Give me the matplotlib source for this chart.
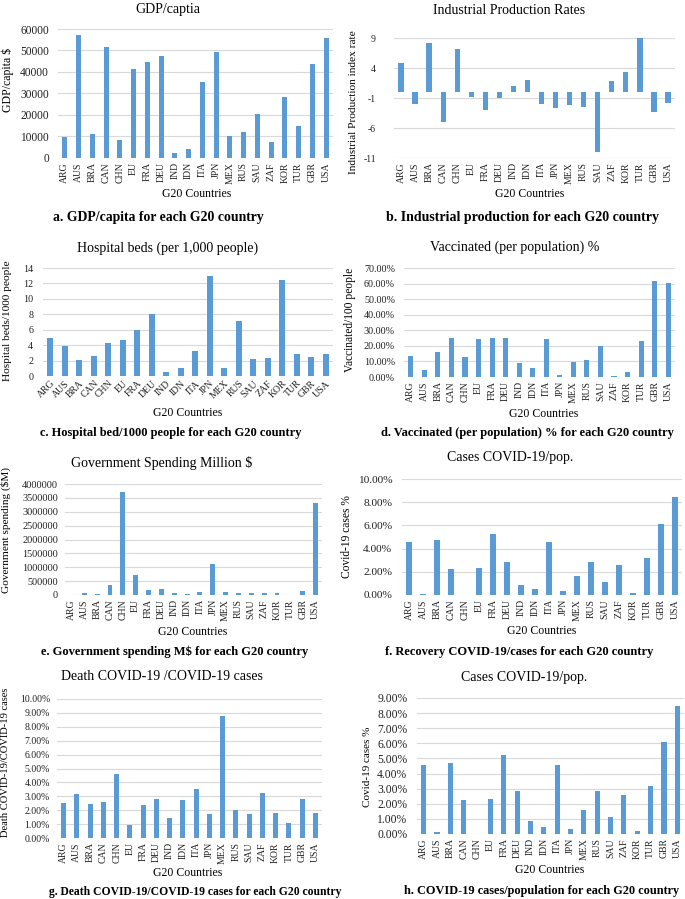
import numpy as np
import matplotlib
matplotlib.use('Agg')
import matplotlib.pyplot as plt
from matplotlib.ticker import FuncFormatter

plt.rcParams['font.family'] = ['Liberation Serif', 'DejaVu Serif']

countries = ['ARG', 'AUS', 'BRA', 'CAN', 'CHN', 'EU', 'FRA', 'DEU', 'IND', 'IDN',
             'ITA', 'JPN', 'MEX', 'RUS', 'SAU', 'ZAF', 'KOR', 'TUR', 'GBR', 'USA']

gdp_capita = [9800, 57000, 11100, 51400, 8300, 41300, 44500, 47500, 2200, 4400,
              35500, 49100, 10200, 12000, 20400, 7300, 28500, 15000, 43600, 55700]

industrial_rate = [4.9, -2.05, 8.2, -5.0, 7.2, -0.85, -2.95, -1.0, 0.95, 1.95,
                   -2.05, -2.6, -2.15, -2.5, -10.0, 1.8, 3.3, 9.0, -3.3, -1.8]

hospital_beds = [4.97, 3.85, 2.1, 2.55, 4.3, 4.7, 5.95, 8.0, 0.5, 1.05,
                 3.2, 13.0, 1.0, 7.15, 2.25, 2.3, 12.45, 2.85, 2.45, 2.85]

vaccinated = [0.134, 0.045, 0.159, 0.249, 0.129, 0.243, 0.252, 0.252, 0.088, 0.060,
              0.241, 0.015, 0.099, 0.108, 0.196, 0.004, 0.030, 0.233, 0.618, 0.606]

gov_spending = [5000, 90000, 30000, 350000, 3700000, 720000, 170000, 217000, 60000, 20000,
                100000, 1100000, 100000, 70000, 60000, 60000, 90000, 5000, 160000, 3320000]

cases_pop = [0.0455, 0.0012, 0.0473, 0.0222, 0.0001, 0.0230, 0.0524, 0.0285, 0.0086, 0.0049,
             0.0457, 0.0036, 0.0160, 0.0285, 0.0112, 0.0257, 0.0018, 0.0315, 0.0612, 0.0845]

death_rate = [0.0252, 0.0317, 0.0245, 0.0260, 0.0459, 0.0091, 0.0240, 0.0284, 0.0144, 0.0272,
              0.0349, 0.0173, 0.0880, 0.0200, 0.0173, 0.0325, 0.0183, 0.0108, 0.0279, 0.0178]

BAR = '#5B9BD5'
GRID = '#D9D9D9'
W, H = 685, 899

fig = plt.figure(figsize=(W / 100, H / 100), dpi=100)


def px_axes(left, top, right, bottom):
    return fig.add_axes([left / W, 1 - bottom / H, (right - left) / W, (bottom - top) / H])


def txt(x, y, s, **kw):
    fig.text(x / W, 1 - y / H, s, ha='center', va='center', **kw)


def pct(dec):
    return FuncFormatter(lambda v, p: f'{v * 100:.{dec}f}%')


plain = FuncFormatter(lambda v, p: f'{v:.0f}')


def panel(box, values, ticks, title, tpos, ylabel, ypos, xlpos, caption, cpos,
          fmt=plain, rot=90, ysize=7.5, ylsize=8.5, csize=9.0, ypad=6.5):
    ax = px_axes(*box)
    x = np.arange(len(countries))
    ax.bar(x, values, width=0.38, color=BAR, zorder=3)
    ax.set_xlim(-0.5, len(countries) - 0.5)
    ax.set_ylim(ticks[0], ticks[-1])
    ax.set_yticks(ticks)
    ax.yaxis.set_major_formatter(fmt)
    ax.grid(axis='y', color=GRID, linewidth=0.8, zorder=0)
    for s in ax.spines.values():
        s.set_visible(False)
    ax.tick_params(length=0, colors='#222222')
    ax.tick_params(axis='y', pad=ypad, labelsize=ysize)
    ax.tick_params(axis='x', labelsize=7.0)
    ax.set_xticks(x)
    if rot == 90:
        ax.set_xticklabels(countries, rotation=90, va='top')
        ax.tick_params(axis='x', pad=3)
    else:
        ax.set_xticklabels(countries, rotation=rot, ha='right', rotation_mode='anchor')
        ax.tick_params(axis='x', pad=2)
    txt(*tpos, title, fontsize=10)
    txt(*ypos, ylabel, fontsize=ylsize, rotation=90)
    txt(*xlpos, 'G20 Countries', fontsize=8.5)
    txt(*cpos, caption, fontsize=csize, fontweight='bold')
    return ax


panel((58, 29, 333, 158), gdp_capita, np.arange(0, 60001, 10000),
      'GDP/captia', (168, 9), 'GDP/capita $', (8, 80), (197, 194),
      'a. GDP/capita for each G20 country', (158, 218), ysize=8.3, csize=9.9)

panel((394, 38, 675, 158), industrial_rate, [-11, -6, -1, 4, 9],
      'Industrial Production Rates', (509, 11), 'Industrial Production index rate', (354, 102),
      (530, 194), 'b. Industrial production for each G20 country', (522, 217),
      ysize=7.0, ylsize=8.2, csize=10.0, ypad=13)

panel((43, 268, 333, 376), hospital_beds, np.arange(0, 15, 2),
      'Hospital beds (per 1,000 people)', (168, 248), 'Hospital beds/1000 people', (8, 321),
      (188, 413), 'c. Hospital bed/1000 people for each G20 country', (171, 433),
      rot=45, ysize=7.2, ylsize=8.2, ypad=7)

panel((404, 268, 675, 377), vaccinated, np.linspace(0, 0.7, 8),
      'Vaccinated (per population) %', (515, 247), 'Vaccinated/100 people', (350, 320),
      (544, 414), 'd. Vaccinated (per population) % for each G20 country', (527, 433),
      fmt=pct(2), ysize=7.3, ylsize=8.3)

panel((65, 484, 322, 595), gov_spending, np.arange(0, 4000001, 500000),
      'Government Spending Million $', (162, 463), 'Government spending ($M)', (6, 530),
      (193, 632), 'e. Government spending M$ for each G20 country', (175, 652),
      ysize=7.4, ylsize=8.1, ypad=5)

panel((402, 479, 682, 595), cases_pop, np.linspace(0, 0.10, 6),
      'Cases COVID-19/pop.', (510, 458), 'Covid-19 cases %', (347, 537),
      (542, 631), 'f. Recovery COVID-19/cases for each G20 country', (519, 652),
      fmt=pct(2), ysize=8.2, ylsize=8.3, ypad=7)

panel((57, 699, 322, 838), death_rate, np.linspace(0, 0.10, 11),
      'Death COVID-19 /COVID-19 cases', (162, 677), 'Death COVID-19/COVID-19 cases', (6, 762),
      (188, 873), 'g. Death COVID-19/COVID-19 cases for each G20 country', (195, 892),
      fmt=pct(2), ysize=7.0, ylsize=7.6, csize=8.4, ypad=5)

panel((417, 698, 684, 834), cases_pop, np.linspace(0, 0.09, 10),
      'Cases COVID-19/pop.', (524, 677), 'Covid-19 cases %', (367, 767),
      (550, 870), 'h. COVID-19 cases/population for each G20 country', (542, 891),
      fmt=pct(2), ysize=8.4, ylsize=8.0, csize=8.8, ypad=7)

fig.savefig('out.png', dpi=100)
